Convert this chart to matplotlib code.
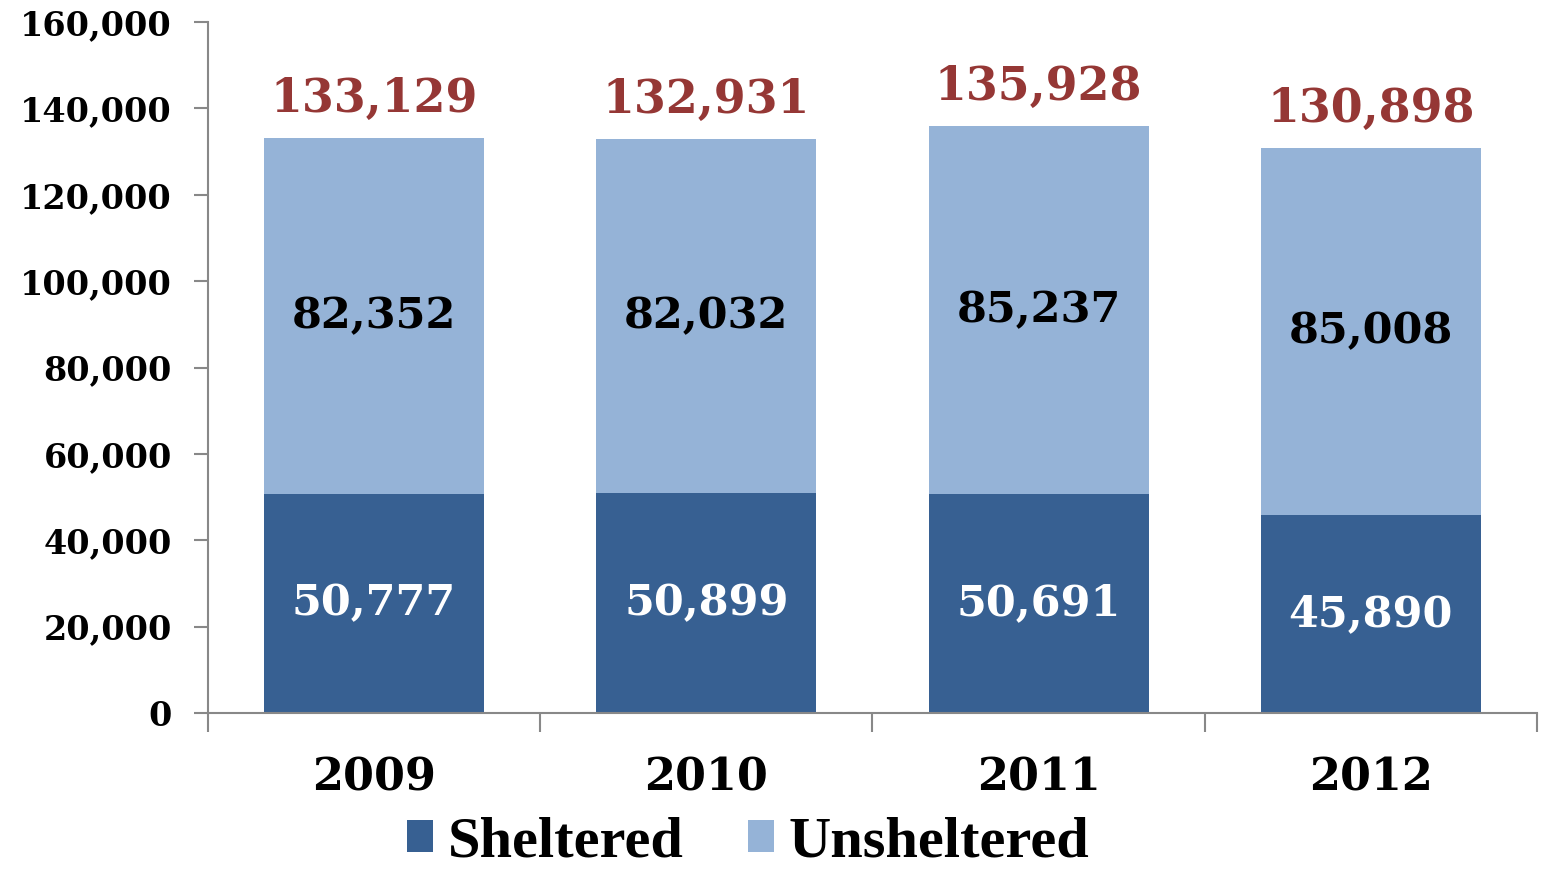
import matplotlib.pyplot as plt
import numpy as np

years = ["2009", "2010", "2011", "2012"]
sheltered = [50777, 50899, 50691, 45890]
unsheltered = [82352, 82032, 85237, 85008]
totals = [133129, 132931, 135928, 130898]

dark = "#376092"
light = "#95B3D7"
red = "#953735"
num_font = "DejaVu Serif"

fig = plt.figure(figsize=(15.46, 8.69), dpi=100)
ax = fig.add_axes([0.1345, 0.1795, 0.8597, 0.7952])

x = np.arange(len(years))
w = 0.662
ax.bar(x, sheltered, w, color=dark, label="Sheltered")
ax.bar(x, unsheltered, w, bottom=sheltered, color=light, label="Unsheltered")

for i in range(len(years)):
    ax.text(x[i], sheltered[i] / 2, f"{sheltered[i]:,}", ha="center", va="center",
            color="white", fontsize=31, fontweight="bold", family=num_font)
    ax.text(x[i], sheltered[i] + unsheltered[i] / 2, f"{unsheltered[i]:,}", ha="center",
            va="center", color="black", fontsize=31, fontweight="bold", family=num_font)
    ax.annotate(f"{totals[i]:,}", (x[i], totals[i]), xytext=(0, 28), textcoords="offset points",
                ha="center", va="center", color=red, fontsize=33, fontweight="bold",
                family=num_font)

ax.set_xlim(-0.5, 3.5)
ax.set_ylim(0, 160000)
ax.set_yticks(np.arange(0, 160001, 20000))
ax.set_yticklabels([f"{v:,}" for v in range(0, 160001, 20000)])
ax.set_xticks(np.arange(-0.5, 4, 1))
ax.set_xticklabels([])
ax.set_xticks(x, minor=True)
ax.set_xticklabels(years, minor=True)
ax.tick_params(axis="x", which="major", length=14, color="#888888", width=1.5, direction="out")
ax.tick_params(axis="x", which="minor", length=0, pad=31)
ax.tick_params(axis="y", length=10, color="#888888", width=1.5, pad=16)
for lab in ax.get_yticklabels():
    lab.set_fontsize(24)
    lab.set_fontweight("bold")
    lab.set_family(num_font)
for lab in ax.get_xticklabels(minor=True):
    lab.set_fontsize(32)
    lab.set_fontweight("bold")
    lab.set_family(num_font)

for s in ["top", "right"]:
    ax.spines[s].set_visible(False)
for s in ["left", "bottom"]:
    ax.spines[s].set_color("#888888")
    ax.spines[s].set_linewidth(1.5)

fig.legend(loc="center", bbox_to_anchor=(0.484, 0.03), ncol=2, frameon=False,
           prop={"family": "Liberation Serif", "weight": "bold", "size": 42},
           handlelength=0.45, handleheight=0.45, handletextpad=0.25, columnspacing=1.1,
           borderpad=0.1)

fig.savefig("out.png", dpi=100)
